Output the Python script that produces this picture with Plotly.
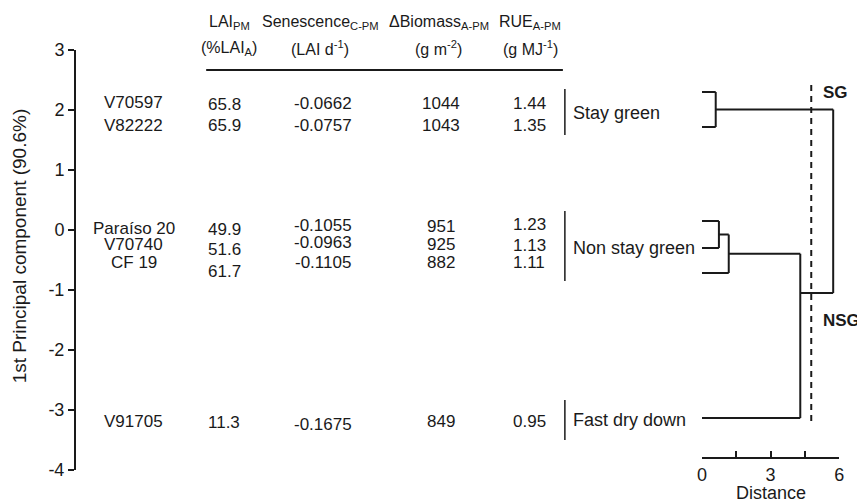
import plotly.graph_objects as go

# ---------------- data ----------------
varieties = ["V70597", "V82222", "Paraíso 20", "V70740", "CF 19", "V91705"]
lai_pm = [65.8, 65.9, 49.9, 51.6, 61.7, 11.3]
senescence = [-0.0662, -0.0757, -0.1055, -0.0963, -0.1105, -0.1675]
biomass = [1044, 1043, 951, 925, 882, 849]
rue = [1.44, 1.35, 1.23, 1.13, 1.11, 0.95]

headers_top = ["LAI<sub>PM</sub>", "Senescence<sub>C-PM</sub>",
               "ΔBiomass<sub>A-PM</sub>", "RUE<sub>A-PM</sub>"]
headers_unit = ["(%LAI<sub>A</sub>)", "(LAI d<sup>-1</sup>)",
                "(g m<sup>-2</sup>)", "(g MJ<sup>-1</sup>)"]

groups = ["Stay green", "Non stay green", "Fast dry down"]
clusters = ["SG", "NSG"]

# dendrogram (x = linkage distance, y = leaf position on PC axis)
sg_leaves = [2.30, 1.717]
sg_merge = 0.6
nsg_leaves = [0.15, -0.30, -0.717]
nsg_merge1 = 0.74
nsg_merge2 = 1.17
fdd_leaf = -3.133
nsg_fdd_merge = 4.3
root_merge = 5.74
root_y = -1.05
cut_distance = 4.78

pc_ticks = [-4, -3, -2, -1, 0, 1, 2, 3]
pc_ticktext = ["-4", "-3", "-2", "-1", "0", "1", "2", "3"]
dist_ticks = [0, 1.5, 3, 4.5, 6]
dist_ticktext = ["0", "", "3", "", "6"]

# ---------------- layout positions (reference pixels) ----------------
OFF = 8                      # page body margin of the html page
W, H = 865 - OFF, 503 - OFF
FONT = "Liberation Sans, Arial, sans-serif"
TXT = "#1a1a1a"

PL, PR, PT, PB = 76, 865, 50, 470   # plot box in reference pixels


def px(X):
    return (X - PL) / (PR - PL)


def py(Y):
    return (PB - Y) / (PB - PT)


name_x = 134
col_x = [225, 325, 443, 532]
head_x = [230, 322, 441, 533]
name_y = [102, 125, 228, 244, 262, 421]
col_y = [
    [104, 125, 229, 249, 271, 422],
    [103, 125, 226, 242, 262, 424],
    [103, 125, 227, 244, 262, 421],
    [103, 125, 225, 245, 262, 421],
]
head_y = [22, 48]
bar_x = 568
group_text_x = 574
group_bars = [(89, 135), (211, 281), (400, 440)]
group_text_y = [113, 248, 420]

fig = go.Figure()

# invisible anchor trace for the main x/y subplot
fig.add_trace(go.Scatter(x=[PL], y=[0], mode="markers", xaxis="x", yaxis="y",
                         marker=dict(opacity=0), hoverinfo="skip",
                         showlegend=False))

# dendrogram lines
s1 = (sg_leaves[0] + sg_leaves[1]) / 2
n1 = (nsg_leaves[0] + nsg_leaves[1]) / 2
n2 = (n1 + nsg_leaves[2]) / 2
dx, dy = [], []


def seg(x0, y0, x1, y1):
    dx.extend([x0, x1, None]); dy.extend([y0, y1, None])


for ly in sg_leaves:
    seg(0, ly, sg_merge, ly)
seg(sg_merge, sg_leaves[0], sg_merge, sg_leaves[1])
seg(sg_merge, s1, root_merge, s1)
seg(0, nsg_leaves[0], nsg_merge1, nsg_leaves[0])
seg(0, nsg_leaves[1], nsg_merge1, nsg_leaves[1])
seg(nsg_merge1, nsg_leaves[0], nsg_merge1, nsg_leaves[1])
seg(nsg_merge1, n1, nsg_merge2, n1)
seg(0, nsg_leaves[2], nsg_merge2, nsg_leaves[2])
seg(nsg_merge2, n1, nsg_merge2, nsg_leaves[2])
seg(nsg_merge2, n2, nsg_fdd_merge, n2)
seg(0, fdd_leaf, nsg_fdd_merge, fdd_leaf)
seg(nsg_fdd_merge, n2, nsg_fdd_merge, fdd_leaf)
seg(nsg_fdd_merge, root_y, root_merge, root_y)
seg(root_merge, s1, root_merge, root_y)

fig.add_trace(go.Scatter(x=dx, y=dy, mode="lines", xaxis="x2", yaxis="y",
                         line=dict(color=TXT, width=2), hoverinfo="skip",
                         showlegend=False))
fig.add_trace(go.Scatter(x=[cut_distance, cut_distance], y=[2.417, -3.25],
                         mode="lines", xaxis="x2", yaxis="y",
                         line=dict(color=TXT, width=2, dash="6px,5px"),
                         hoverinfo="skip", showlegend=False))

shapes = []
for (a, b) in group_bars:
    shapes.append(dict(type="line", xref="paper", yref="paper",
                       x0=px(bar_x), x1=px(bar_x), y0=py(a), y1=py(b),
                       line=dict(color=TXT, width=1.5)))
shapes.append(dict(type="line", xref="paper", yref="paper",
                   x0=px(207), x1=px(566), y0=py(70), y1=py(70),
                   line=dict(color=TXT, width=2)))

ann = []


def A(text, X, Y, size=17, xanchor="center", bold=False, **kw):
    if bold:
        text = "<b>" + text + "</b>"
    ann.append(dict(text=text, x=px(X), y=py(Y), xref="paper", yref="paper",
                    showarrow=False, xanchor=xanchor, yanchor="middle",
                    font=dict(family=FONT, size=size, color=TXT), **kw))


for i, v in enumerate(varieties):
    A(v, name_x, name_y[i])
cols = [
    [f"{v:.1f}" for v in lai_pm],
    [f"{v:.4f}" for v in senescence],
    [f"{v:d}" for v in biomass],
    [f"{v:.2f}" for v in rue],
]
for c, vals in enumerate(cols):
    for i, s in enumerate(vals):
        A(s, col_x[c], col_y[c][i])
for c in range(4):
    A(headers_top[c], head_x[c], head_y[0], size=16)
    A(headers_unit[c], head_x[c], head_y[1], size=16)
for g, yv in zip(groups, group_text_y):
    A(g, group_text_x, yv, size=18, xanchor="left")
A(clusters[0], 826, 93, size=17, xanchor="left", bold=True)
A(clusters[1], 826, 320, size=17, xanchor="left", bold=True)
A("1st Principal component (90.6%)", 19, 246, size=19, textangle=-90)
A("Distance", 775, 493, size=18)

fig.update_layout(
    width=W, height=H,
    margin=dict(l=PL - OFF, r=865 - PR, t=PT - OFF, b=503 - PB, pad=0),
    paper_bgcolor="white", plot_bgcolor="white",
    showlegend=False,
    annotations=ann,
    shapes=shapes,
    xaxis=dict(range=[PL, PR], visible=False, domain=[0, 1], fixedrange=True,
               anchor="y"),
    xaxis2=dict(range=[0, 6], domain=[px(706), px(844)],
                anchor="free", position=py(458), side="bottom",
                showline=True, linecolor=TXT, linewidth=2,
                ticks="inside", ticklen=6, tickwidth=2, tickcolor=TXT,
                tickvals=dist_ticks, ticktext=dist_ticktext,
                tickfont=dict(family=FONT, size=18, color=TXT),
                showgrid=False, zeroline=False),
    yaxis=dict(range=[-4, 3], tickvals=pc_ticks, ticktext=pc_ticktext,
               anchor="x", side="left",
               showline=True, linecolor=TXT,
               linewidth=2, ticks="outside", ticklen=6, tickwidth=1.5,
               tickcolor=TXT, showgrid=False, zeroline=False,
               tickfont=dict(family=FONT, size=18, color=TXT)),
)

fig.write_html("out.html")
